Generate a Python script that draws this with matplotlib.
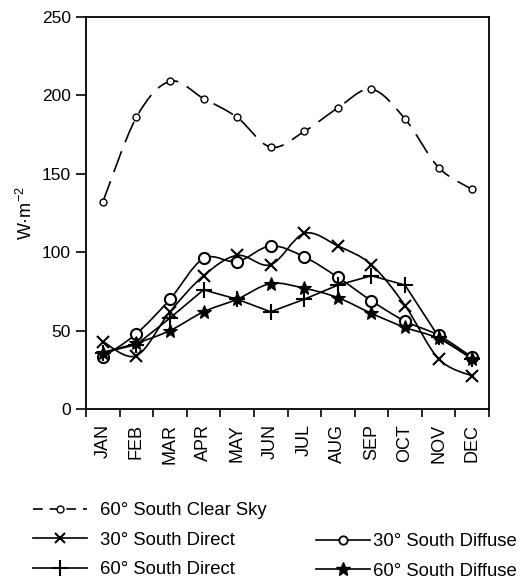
import numpy as np
import matplotlib
matplotlib.use("Agg")
import matplotlib.pyplot as plt
from matplotlib.path import Path
from matplotlib.patches import PathPatch
from matplotlib.lines import Line2D

plt.rcParams['font.family'] = ['Liberation Sans', 'DejaVu Sans']
plt.rcParams['mathtext.fontset'] = 'custom'
plt.rcParams['mathtext.rm'] = 'Liberation Sans'
plt.rcParams['mathtext.it'] = 'Liberation Sans'
plt.rcParams['lines.scale_dashes'] = False

months = ['JAN', 'FEB', 'MAR', 'APR', 'MAY', 'JUN', 'JUL', 'AUG', 'SEP', 'OCT', 'NOV', 'DEC']
clear_sky_60 = [132, 186, 209, 198, 186, 167, 177, 192, 204, 185, 154, 140]
direct_30 = [43, 34, 62, 85, 98, 92, 112, 104, 92, 66, 32, 21]
diffuse_30 = [33, 48, 70, 96, 94, 104, 97, 84, 69, 56, 47, 33]
direct_60 = [36, 41, 58, 76, 70, 62, 70, 79, 85, 79, 46, 32]
diffuse_60 = [36, 42, 50, 62, 70, 80, 77, 71, 61, 52, 45, 32]
yticks = [0, 50, 100, 150, 200, 250]

labels = ['60° South Clear Sky', '30° South Direct', '60° South Direct',
          '30° South Diffuse', '60° South Diffuse']

fig = plt.figure(figsize=(5.22, 5.79), dpi=100)
ax = fig.add_axes([86/522, 1-409/579, (489-86)/522, (409-17)/579])

x = np.arange(1, 13)


def smooth_path(xs, ys):
    pts = np.column_stack([xs, ys]).astype(float)
    n = len(pts)
    verts = [pts[0]]
    codes = [Path.MOVETO]
    for i in range(n - 1):
        p0 = pts[i - 1] if i > 0 else pts[i]
        p1 = pts[i]
        p2 = pts[i + 1]
        p3 = pts[i + 2] if i + 2 < n else pts[i + 1]
        c1 = p1 + (p2 - p0) / 6.0
        c2 = p2 - (p3 - p1) / 6.0
        verts += [c1, c2, p2]
        codes += [Path.CURVE4] * 3
    return Path(verts, codes)


lw = 1.2
# Clear sky dashed smooth
p = PathPatch(smooth_path(x, clear_sky_60), fill=False, lw=lw, ec='black',
              linestyle=(0, (16, 7)), zorder=2)
ax.add_patch(p)
ax.plot(x, clear_sky_60, linestyle='none', marker='o', ms=5, mfc='white',
        mec='black', mew=1.0, zorder=3)

for ys in (direct_30, diffuse_30, diffuse_60):
    ax.add_patch(PathPatch(smooth_path(x, ys), fill=False, lw=lw, ec='black', zorder=2))
ax.plot(x, direct_60, color='black', lw=lw, zorder=2)

ax.plot(x, direct_30, linestyle='none', marker='x', ms=9, mec='black', mew=1.5, zorder=3)
ax.plot(x, diffuse_30, linestyle='none', marker='o', ms=8, mfc='white', mec='black', mew=1.5, zorder=3)
ax.plot(x, direct_60, linestyle='none', marker='+', ms=11, mec='black', mew=1.5, zorder=3)
ax.plot(x, diffuse_60, linestyle='none', marker='*', ms=10, mfc='black', mec='black', mew=0.8, zorder=3)

ax.set_xlim(0.5, 12.5)
ax.set_ylim(0, 250)
ax.set_yticks(yticks)
ax.set_yticklabels([str(v) for v in yticks], fontsize=12.5)
ax.set_xticks(x)
ax.set_xticklabels(months, rotation=90, fontsize=13)
ax.set_xticks(np.arange(0.5, 13, 1), minor=True)
ax.tick_params(axis='x', which='major', length=0, pad=11)
ax.tick_params(axis='x', which='minor', length=6, width=1.2, direction='out')
ax.tick_params(axis='y', length=7, width=1.2, direction='out', pad=4)
for s in ax.spines.values():
    s.set_linewidth(1.3)
ax.set_ylabel('W·m$^{-2}$', fontsize=13, labelpad=4)

h_clear = Line2D([], [], color='black', lw=lw, linestyle=(0, (7, 5)), marker='o', ms=5,
                 mfc='white', mec='black', mew=1.0)
h_d30 = Line2D([], [], color='black', lw=lw, marker='x', ms=7, mew=1.5)
h_d60 = Line2D([], [], color='black', lw=lw, marker='+', ms=11, mew=1.5)
h_f30 = Line2D([], [], color='black', lw=lw, marker='o', ms=6, mfc='white', mew=1.3)
h_f60 = Line2D([], [], color='black', lw=lw, marker='*', ms=10, mfc='black')

common = dict(frameon=False, fontsize=13.3, handlelength=2.95, labelspacing=0.68,
              borderpad=0, borderaxespad=0, loc='upper left')
leg1 = fig.legend([h_clear, h_d30, h_d60], labels[:3], handletextpad=0.65,
                  bbox_to_anchor=(33/522, 1-502/579), **common)
leg2 = fig.legend([h_f30, h_f60], labels[3:], handletextpad=0.15,
                  bbox_to_anchor=(316/522, 1-533/579), **common)

fig.savefig('out.png', dpi=100)
